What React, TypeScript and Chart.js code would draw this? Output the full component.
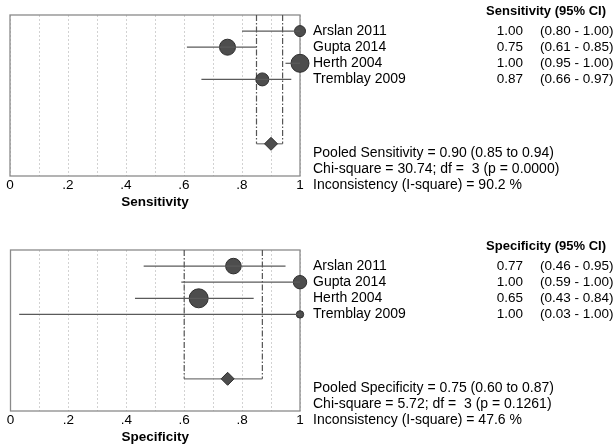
import React, { useEffect, useRef } from "react";
import { Chart, registerables } from "chart.js";

Chart.register(...registerables);

const FONT = "'Liberation Sans', Arial, Helvetica, sans-serif";

const studies = ["Arslan 2011", "Gupta 2014", "Herth 2004", "Tremblay 2009"];

const sensEst = [1.0, 0.75, 1.0, 0.87];
const sensLo = [0.8, 0.61, 0.95, 0.66];
const sensHi = [1.0, 0.85, 1.0, 0.97];
const sensWeight = [5.5, 8, 9, 6.5];
const sensPooled = [0.9, 0.85, 0.94];
const sensStats = [
  "Pooled Sensitivity = 0.90 (0.85 to 0.94)",
  "Chi-square = 30.74; df =  3 (p = 0.0000)",
  "Inconsistency (I-square) = 90.2 %",
];

const specEst = [0.77, 1.0, 0.65, 1.0];
const specLo = [0.46, 0.59, 0.43, 0.03];
const specHi = [0.95, 1.0, 0.84, 1.0];
const specWeight = [7.8, 6.7, 9.5, 3.7];
const specPooled = [0.75, 0.6, 0.87];
const specStats = [
  "Pooled Specificity = 0.75 (0.60 to 0.87)",
  "Chi-square = 5.72; df =  3 (p = 0.1261)",
  "Inconsistency (I-square) = 47.6 %",
];

const tickLabels = ["0", ".2", ".4", ".6", ".8", "1"];

type PanelProps = {
  axisTitle: string;
  header: string;
  est: number[];
  lo: number[];
  hi: number[];
  weight: number[];
  pooled: number[];
  stats: string[];
  height: number;
  padBottom: number;
};

function Panel(props: PanelProps) {
  const ref = useRef<HTMLCanvasElement | null>(null);
  useEffect(() => {
    if (!ref.current) return;
    const { axisTitle, header, est, lo, hi, weight, pooled, stats, padBottom } = props;
    const POOL_ROW = 8;

    const ciSets = studies.map((_, i) => ({
      type: "line" as const,
      data: [
        { x: lo[i], y: i + 1 },
        { x: hi[i], y: i + 1 },
      ],
      borderColor: "#5a5a5a",
      borderWidth: 1.2,
      pointRadius: 0,
      clip: false,
      order: 1,
    }));

    const vLines = [pooled[1], pooled[2]].map((v) => ({
      type: "line" as const,
      data: [
        { x: v, y: 0 },
        { x: v, y: POOL_ROW },
      ],
      borderColor: "#555",
      borderWidth: 1.2,
      borderDash: [6, 2, 1.5, 2],
      pointRadius: 0,
      clip: false,
      order: 3,
    }));

    const hLine = {
      type: "line" as const,
      data: [
        { x: pooled[1], y: POOL_ROW },
        { x: pooled[2], y: POOL_ROW },
      ],
      borderColor: "#777",
      borderWidth: 1.2,
      pointRadius: 0,
      clip: false,
      order: 3,
    };

    const points = {
      type: "scatter" as const,
      data: est.map((x, i) => ({ x, y: i + 1 })),
      pointRadius: weight,
      pointStyle: "circle",
      backgroundColor: "#4d4d4d",
      borderColor: "#2e2e2e",
      borderWidth: 1,
      clip: false,
      order: 2,
    };

    const diamond = {
      type: "scatter" as const,
      data: [{ x: pooled[0], y: POOL_ROW }],
      pointRadius: 6.5,
      pointStyle: "rectRot",
      backgroundColor: "#4d4d4d",
      borderColor: "#2e2e2e",
      borderWidth: 1,
      clip: false,
      order: 0,
    };

    const boxPlugin = {
      id: "box",
      beforeDatasetsDraw(chart: any) {
        const { ctx, chartArea: a } = chart;
        ctx.save();
        ctx.strokeStyle = "#8a8a8a";
        ctx.lineWidth = 1.3;
        ctx.strokeRect(a.left, a.top, a.right - a.left, a.bottom - a.top);
        ctx.restore();
      },
    };

    const textPlugin = {
      id: "texts",
      afterDraw(chart: any) {
        const { ctx } = chart;
        const y = chart.scales.y;
        ctx.save();
        ctx.fillStyle = "#000";
        ctx.textBaseline = "middle";
        ctx.font = `bold 13px ${FONT}`;
        ctx.textAlign = "right";
        ctx.fillText(header, 606, y.getPixelForValue(-0.22));
        studies.forEach((s, i) => {
          const py = y.getPixelForValue(i + 1);
          ctx.font = `14px ${FONT}`;
          ctx.textAlign = "left";
          ctx.fillText(s, 313, py);
          ctx.font = `13.5px ${FONT}`;
          ctx.textAlign = "right";
          ctx.fillText(est[i].toFixed(2), 523, py);
          ctx.textAlign = "left";
          ctx.fillText(`(${lo[i].toFixed(2)} - ${hi[i].toFixed(2)})`, 540, py);
        });
        ctx.font = `14px ${FONT}`;
        stats.forEach((t, k) => {
          ctx.textAlign = "left";
          ctx.fillText(t, 313, y.getPixelForValue(POOL_ROW + 0.57 + k));
        });
        ctx.restore();
      },
    };

    const chart = new Chart(ref.current, {
      type: "scatter",
      data: { datasets: [...ciSets, ...vLines, hLine, points, diamond] as any },
      options: {
        responsive: false,
        animation: false,
        events: [],
        layout: { padding: { left: 6.5, right: 315, top: 15, bottom: padBottom } },
        plugins: { legend: { display: false }, tooltip: { enabled: false } },
        scales: {
          x: {
            type: "linear",
            min: 0,
            max: 1,
            afterFit: (s: any) => {
              s.height = 34.1;
            },
            ticks: {
              stepSize: 0.1,
              autoSkip: false,
              maxRotation: 0,
              padding: 1.5,
              color: "#000",
              font: { family: FONT, size: 13.5 },
              callback: (v: any) => {
                const idx = Math.round(Number(v) * 10);
                return idx % 2 === 0 ? tickLabels[idx / 2] : "";
              },
            },
            grid: { color: "#d2d2d2", lineWidth: 1, drawTicks: false },
            border: { display: false, dash: [2, 2] },
            title: {
              display: true,
              text: axisTitle,
              color: "#000",
              padding: 0,
              font: { family: FONT, size: 13.5, weight: "bold" },
            },
          },
          y: {
            type: "linear",
            display: false,
            min: 0,
            max: 10,
            reverse: true,
          },
        },
      } as any,
      plugins: [boxPlugin, textPlugin],
    });
    return () => chart.destroy();
  }, []);
  return (
    <canvas
      ref={ref}
      width={615}
      height={props.height}
      style={{ display: "block", width: 615, height: props.height }}
    />
  );
}

export default function App() {
  return (
    <div
      style={{
        position: "fixed",
        left: 0,
        top: 0,
        width: 615,
        height: 446,
        overflow: "hidden",
        background: "#fff",
      }}
    >
      <Panel
        axisTitle="Sensitivity"
        header="Sensitivity (95% CI)"
        est={sensEst}
        lo={sensLo}
        hi={sensHi}
        weight={sensWeight}
        pooled={sensPooled}
        stats={sensStats}
        height={235}
        padBottom={24.9}
      />
      <Panel
        axisTitle="Specificity"
        header="Specificity (95% CI)"
        est={specEst}
        lo={specLo}
        hi={specHi}
        weight={specWeight}
        pooled={specPooled}
        stats={specStats}
        height={211}
        padBottom={0.9}
      />
    </div>
  );
}
